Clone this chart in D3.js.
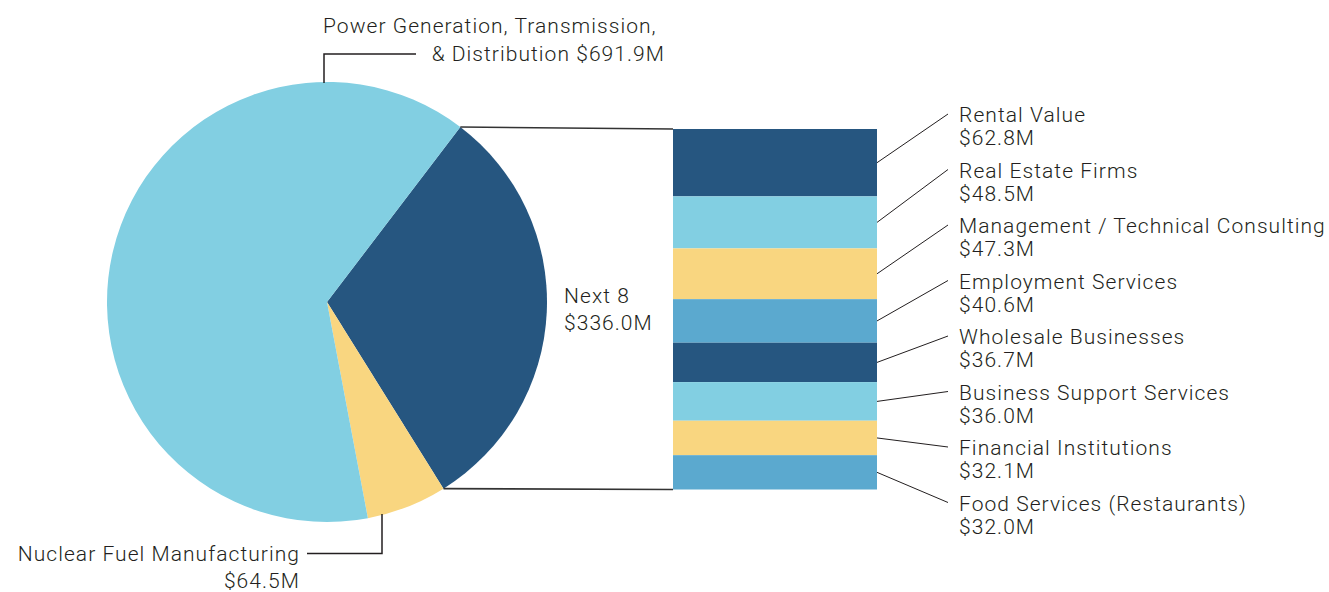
<!DOCTYPE html>
<html><head><meta charset="utf-8">
<script src="https://cdn.jsdelivr.net/npm/d3@7"></script>
<style>body{margin:0;background:#fff}svg{display:block}text{font-family:Roboto,"DejaVu Sans",sans-serif;fill:#231f20;font-size:21px;font-weight:300;letter-spacing:1.05px}</style>
</head><body><svg id="c" width="1329" height="592"></svg>
<script>
// Data
const pieNames = ["Next 8", "Nuclear Fuel Manufacturing", "Power Generation, Transmission, & Distribution"];
const pieValues = [336.0, 64.5, 691.9];
const pieLabels = ["$336.0M", "$64.5M", "$691.9M"];
const barNames = ["Rental Value", "Real Estate Firms", "Management / Technical Consulting", "Employment Services", "Wholesale Businesses", "Business Support Services", "Financial Institutions", "Food Services (Restaurants)"];
const barValues = [62.8, 48.5, 47.3, 40.6, 36.7, 36.0, 32.1, 32.0];
const barLabels = ["$62.8M", "$48.5M", "$47.3M", "$40.6M", "$36.7M", "$36.0M", "$32.1M", "$32.0M"];

const navy = "#265680", light = "#82cfe2", yellow = "#f9d680", mid = "#5ba9cf";
const pieColors = [navy, yellow, light];
const barColors = [navy, light, yellow, mid, navy, light, yellow, mid];

const svg = d3.select("#c");
const cx = 327, cy = 302, R = 220;
const startDeg = 37.3;
const pie = d3.pie().sort(null).value(d => d)
  .startAngle(startDeg * Math.PI / 180).endAngle(startDeg * Math.PI / 180 + 2 * Math.PI);
const arcs = pie(pieValues);
const arc = d3.arc().innerRadius(0).outerRadius(R);
const g = svg.append("g").attr("transform", `translate(${cx},${cy})`);
g.selectAll("path").data(arcs).join("path").attr("d", arc).attr("fill", (d, i) => pieColors[i]);

const pt = a => [cx + R * Math.sin(a), cy - R * Math.cos(a)];

// Bar
const barX = 673, barW = 204, barTop = 129, barBot = 489.5;
const y = d3.scaleLinear().domain([0, d3.sum(barValues)]).range([barTop, barBot]);
const cum = d3.cumsum(barValues);
const segs = barValues.map((v, i) => ({ v, y0: y(cum[i] - v), y1: y(cum[i]) }));
svg.selectAll("rect.seg").data(segs).join("rect").attr("class", "seg")
  .attr("x", barX).attr("width", barW).attr("y", d => d.y0).attr("height", d => d.y1 - d.y0)
  .attr("fill", (d, i) => barColors[i]);

// Connectors from pie slice to bar
const n8 = arcs[0];
const pA = pt(n8.startAngle), pB = pt(n8.endAngle);
svg.append("line").attr("x1", pA[0]).attr("y1", pA[1]).attr("x2", barX).attr("y2", barTop)
  .attr("stroke", "#333").attr("stroke-width", 1.6);
svg.append("line").attr("x1", pB[0]).attr("y1", pB[1]).attr("x2", barX).attr("y2", barBot)
  .attr("stroke", "#333").attr("stroke-width", 1.6);

// Next 8 label
const n8t = svg.append("text").attr("x", 564).attr("y", 302.7);
n8t.append("tspan").attr("x", 564).text(pieNames[0]);
n8t.append("tspan").attr("x", 564).attr("dy", 27).text(pieLabels[0]);

// Bar labels
const labX = 959;
segs.forEach((s, i) => {
  const by = 122 + i * 55.5;
  const ym = (s.y0 + s.y1) / 2;
  svg.append("line").attr("x1", barX + barW).attr("y1", ym).attr("x2", 948).attr("y2", by - 8)
    .attr("stroke", "#231f20").attr("stroke-width", 1);
  const t = svg.append("text").attr("x", labX).attr("y", by);
  t.append("tspan").attr("x", labX).text(barNames[i]);
  t.append("tspan").attr("x", labX).attr("dy", 23).text(barLabels[i]);
});

// Power Generation label
const pgx = 324;
const pgy = cy - Math.sqrt(R * R - (pgx - cx) * (pgx - cx));
svg.append("path").attr("d", `M${pgx},${pgy + 1}V54H416`).attr("fill", "none")
  .attr("stroke", "#231f20").attr("stroke-width", 1.5);
svg.append("text").attr("x", 323).attr("y", 33).text("Power Generation, Transmission,");
svg.append("text").attr("x", 665).attr("y", 61).attr("text-anchor", "end").text("& Distribution " + pieLabels[2]);

// Nuclear label
const nx = 382;
const ny = cy + Math.sqrt(R * R - (nx - cx) * (nx - cx));
svg.append("path").attr("d", `M${nx},${ny - 1}V553.5H307`).attr("fill", "none")
  .attr("stroke", "#231f20").attr("stroke-width", 1.5);
svg.append("text").attr("x", 300).attr("y", 561).attr("text-anchor", "end").text(pieNames[1]);
svg.append("text").attr("x", 300).attr("y", 588).attr("text-anchor", "end").text(pieLabels[1]);
</script></body></html>
